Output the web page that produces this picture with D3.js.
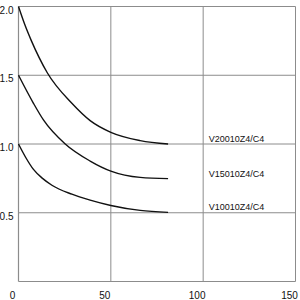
<!DOCTYPE html>
<html><head><meta charset="utf-8">
<script src="https://cdn.jsdelivr.net/npm/d3@7"></script>
<style>
html,body{margin:0;padding:0;background:#fff;}
svg{display:block;}
text{font-family:"Liberation Sans Narrow","Arial Narrow","Liberation Sans",sans-serif;fill:#111;}
</style></head>
<body>
<svg id="c" width="300" height="300"></svg>
<script>
// Data
const xTicks = [0, 50, 100, 150];
const yTicks = [0.5, 1.0, 1.5, 2.0];
const yTickLabels = ["0.5", "1.0", "1.5", "2.0"];
const seriesNames = ["V20010Z4/C4", "V15010Z4/C4", "V10010Z4/C4"];
const x200 = [0, 3.5, 7, 15.5, 28.9, 38.8, 50, 65.9, 81];
const s200 = [2.0, 1.865, 1.75, 1.52, 1.296, 1.17, 1.085, 1.025, 1.0];
const x150 = [0, 8.1, 13.5, 25.3, 38.8, 50, 65.9, 81];
const s150 = [1.5, 1.296, 1.175, 1.0, 0.876, 0.803, 0.757, 0.748];
const x100 = [0, 4, 8.1, 13, 18.1, 28.9, 38.8, 50, 65.9, 81];
const s100 = [1.0, 0.90, 0.815, 0.75, 0.70, 0.635, 0.592, 0.553, 0.517, 0.503];
const seriesX = [x200, x150, x100];
const seriesValues = [s200, s150, s100];

const svg = d3.select("#c");
const x = d3.scaleLinear().domain([0, 150]).range([18.5, 295.5]);
const y = d3.scaleLinear().domain([0, 2]).range([281.5, 6.5]);
const grid = "#8c8c8c";

// grid lines
svg.append("g").selectAll("line").data(yTicks).join("line")
  .attr("x1", x(0)).attr("x2", x(150))
  .attr("y1", d => y(d)).attr("y2", d => y(d))
  .attr("stroke", grid).attr("stroke-width", 1);
svg.append("g").selectAll("line").data(xTicks.filter(d => d > 0)).join("line")
  .attr("x1", d => x(d)).attr("x2", d => x(d))
  .attr("y1", y(0)).attr("y2", y(2))
  .attr("stroke", grid).attr("stroke-width", 1);
// axis lines
svg.append("line").attr("x1", x(0)).attr("x2", x(0)).attr("y1", y(0)).attr("y2", y(2))
  .attr("stroke", grid).attr("stroke-width", 1.2);
svg.append("line").attr("x1", x(0)).attr("x2", x(150)).attr("y1", y(0)).attr("y2", y(0))
  .attr("stroke", grid).attr("stroke-width", 1);

// tick labels
svg.append("g").selectAll("text").data(yTicks).join("text")
  .attr("x", x(0) - 5).attr("y", d => y(d) + 7)
  .attr("text-anchor", "end").attr("font-size", 10)
  .text((d, i) => yTickLabels[i]);
svg.append("g").selectAll("text").data(xTicks).join("text")
  .attr("x", d => x(d) - 6).attr("y", 299)
  .attr("text-anchor", "middle").attr("font-size", 10)
  .text(d => d);

// curves
const line = d3.line().curve(d3.curveMonotoneX);
svg.append("g").selectAll("path").data(seriesValues).join("path")
  .attr("d", (vals, k) => line(vals.map((v, i) => [x(seriesX[k][i]), y(v)])))
  .attr("fill", "none")
  .attr("stroke", "#111").attr("stroke-width", 1.4);

// series labels
svg.append("g").selectAll("text").data(seriesValues).join("text")
  .attr("x", x(103)).attr("y", d => y(d[d.length - 1]) - 2)
  .attr("font-size", 9)
  .text((d, i) => seriesNames[i]);
</script>
</body></html>
